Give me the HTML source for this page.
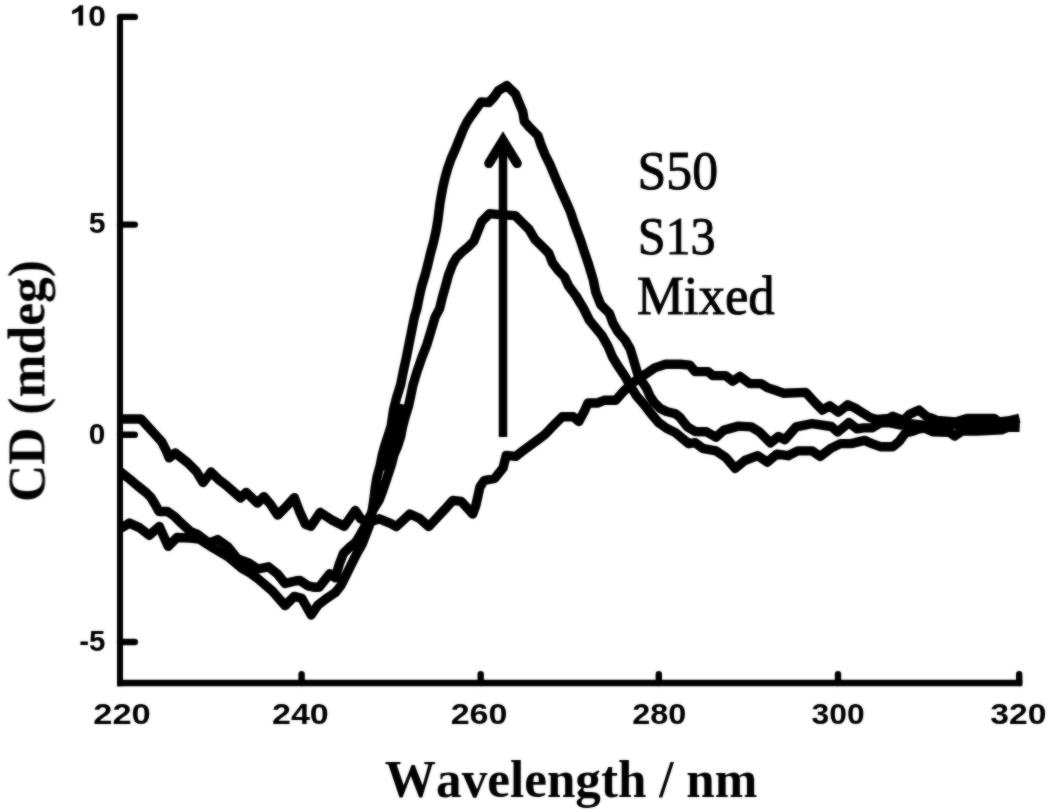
<!DOCTYPE html>
<html><head><meta charset="utf-8"><style>
html,body{margin:0;padding:0;background:#fff;}
body{width:1050px;height:812px;overflow:hidden;}
svg{display:block;}
#wrap{width:1050px;height:812px;}
text{font-kerning:none;}
.tk{font-family:"Liberation Sans",sans-serif;font-weight:bold;font-size:32px;fill:#000;}
.lg{font-family:"Liberation Serif",serif;font-size:52px;fill:#000;stroke:#000;stroke-width:0.9px;}
.ax{font-family:"Liberation Serif",serif;font-weight:bold;font-size:52px;fill:#000;}
</style></head><body>
<div id="wrap">
<svg width="1050" height="812" viewBox="0 0 1050 812">
<defs><filter id="bl" x="-2%" y="-2%" width="104%" height="104%"><feGaussianBlur stdDeviation="1" result="b"/><feComposite in="SourceGraphic" in2="b" operator="arithmetic" k1="0" k2="0.5" k3="0.5" k4="0"/></filter></defs>
<rect width="1050" height="812" fill="#fff"/>
<g filter="url(#bl)">
<g stroke="#000" stroke-width="6" fill="none" stroke-linecap="round">
<path d="M120,17 V686.3" stroke-linecap="butt"/>
<path d="M117,683 H1022.3" stroke-width="6.6" stroke-linecap="butt"/>
<path stroke-width="6.4" d="M120,16.9 H134.8 M120,224.6 H134.8 M120,434.7 H134.8 M120,642 H134.8"/>
<path stroke-width="6.4" d="M301.6,683 V674.3 M480.7,683 V674.3 M658.8,683 V674.3 M838,683 V674.3 M1019.2,683 V674.3"/>
</g>
<g stroke="#000" stroke-width="9.4" fill="none" stroke-linejoin="round" stroke-linecap="butt">
<polyline points="120,419 141,419 150.7,429.6 161.8,441.9 166.7,451.7 169.2,457.9 175.3,453 187.7,462.8 196.3,471.4 203.1,482.5 211,472 218.5,479.4 225.8,485 240.6,497.9 246.2,492.4 257.4,503.1 263.9,496.6 270.3,504 277.7,515.1 286,506.8 294.3,497.6 299.9,512.3 305.4,524.3 311,526.2 320.2,512.3 331.3,519.7 344.2,526.2 355.3,510.5 360.8,518.8 368.2,522.5 379.3,518.8 390.4,523.4 396.3,526.6 409.9,514 419.3,518.2 428.7,526.6 444.4,509.8 452.8,500.4 461.2,501.4 472.7,514 475.8,505.6 480,486.8 484.2,480.5 494.7,478.4 503.1,467.9 506.2,455.4 515.6,456.4 524,450.1 536.6,440.7 544.9,434.4 551.1,427.9 562.2,416.8 573.3,416.8 578.8,421.5 584.3,411.3 588,403 597.3,403 604.7,400.2 615.8,400.2 623.1,391.9 630.5,384.5 637.9,379 645.3,374.3 654.6,367.9 665.6,364.2 680.4,364.2 689.7,365.1 695.2,371.6 708,371.6 712.8,375.6 725.6,375.6 732.8,381.2 740,376.4 749.6,383.6 760.9,383.6 767.3,387.6 776.9,390.8 783.3,393.2 805.7,392.4 815.3,402.9 822.5,410.1 829.7,405.7 838.4,412.1 847.8,404.8 855.1,408 861.4,412.1 869.8,417.4 877.1,419.5 888.7,418.4 892.9,416.3 898.1,418.4 903.3,420.5 909.6,414.2 919,410 926.4,416.3 934.8,419.5 937,420.4 955.7,422 967,418.4 994,418.4 999,422 1007.7,421 1019.5,418.4"/>
<polyline points="120,528.7 129.4,523.1 139.4,527.6 149.3,535.3 159.3,526.4 168.2,546.4 177,537.5 190.3,538 199.2,539 213.2,548 227.6,556.5 242,568.5 250,573 257.6,578.5 272.2,590.8 285.1,605.6 294.3,596.4 301.7,598.2 311.2,615 318,604.9 327.1,598.1 335.2,592.7 340.7,585.9 346.1,575.1 351.5,564.2 356.9,553.4 362.3,543.9 366.5,533 369.5,525 371.5,515 373.8,500 375.2,488 377,477 380.3,465 382.3,455 384.7,446 388,436 391.2,426 393.5,410 396.5,398 400.6,384.8 403.3,371.3 406.3,357.7 409,344.2 411.7,330.6 414.4,317.1 416.9,308.6 419.1,297.5 421.6,286.5 425,275.4 427.9,264.3 430.5,253.2 433.5,242.2 436,231.1 437.9,220 440,203 442.6,188.4 445,178 447.6,168.7 451,159 455.4,149 459,140 463.3,129.4 467,122 471.2,115.6 477.1,107.7 481,102 488.9,102.5 494,97 498.5,90.5 506.8,85.6 515.6,94.2 518.8,102.2 522.8,111.8 524.4,121.4 530,127.8 538,135.8 541.2,145.4 545.2,155 550,164.6 554,174.2 558.5,185 563,195 567.5,205 570.5,212 574.3,223.5 580.2,239.3 584.1,251.1 588.1,262.9 593.3,280 595.8,292.3 600.7,304.6 609.3,313.2 613,323.1 617.9,331.7 625.3,340.3 630.2,348.9 633.6,360 637.7,373.8 642.1,381.6 646.6,388.3 649.9,396 654.3,402.7 659.9,408.2 666.5,411.5 675.4,413.7 679.8,417.1 683.1,421.5 687.6,427 695.2,431.6 706.4,431.7 716,437.3 724,430.1 738.4,426.1 751.2,426.9 759.3,431.7 770.5,442.9 778.5,436.5 784.9,439.7 796.1,426.9 812.1,423.7 831.3,426.5 837.7,432 848.9,422.6 857.2,428.9 863.5,427.9 871.9,427.9 880.3,423 887.6,422.5 900,425 912,424 922,425 935,426 950,425 965,424 980,425 1000,424 1019.5,423.5"/>
<polyline points="120,471.5 130.3,479.6 137.2,485.5 146,492.5 151,497.5 155.5,505 159,511.5 167.5,511.5 174.6,516.5 180,522 191.1,532 197.7,534.5 208.8,543 217.7,539.5 227.6,546.5 237.6,559 248.7,563 257.6,569 268.5,566.8 277.7,574.2 285.1,583.5 296.2,580.7 300,580.5 308.1,585.9 314.7,587.3 319,587.3 324.4,580.5 329.8,573.7 335.2,577.8 339.3,564.2 343.4,553.4 348.8,548 355.6,542.5 359.6,535.8 364,528 368,520 373,510 379.2,500 383,490 387.3,477 391.3,465 393.9,455 397.3,447 400.8,436 402.5,427 405.1,417 408.5,406 410.5,397 413,384.8 417.1,371.3 421.8,357.7 427,344.2 431.1,330.6 435.1,317.1 439.6,308.6 442.3,297.5 445.4,286.5 448.4,275.4 452.6,264.3 456.5,257.5 462,252 467.9,247.1 473.8,241.2 477.7,231.4 481.7,221.5 489.6,213.6 499.4,214.6 515.2,215.6 521.1,221.5 529,229.4 534.9,239.3 542.8,247.1 548.7,253.1 552.6,262.9 558.5,270.8 564.4,276.7 568.7,286.2 576.1,296 583.5,308.3 589.6,320.6 595.8,328 601.9,335.4 608.1,346.5 612.5,357 618.8,367.2 625.5,377.2 631,387.1 636.6,396 644.3,404.9 651,413.7 658.7,422.6 666.5,428.2 675.4,432.6 682,438.1 688.7,443.7 695.2,442.7 702.6,448.3 716,450.9 725.6,457.3 735.2,468.5 744.8,460.5 757.7,455.7 767.3,462.1 776.9,454.1 788.1,455.7 797.7,450.9 812.1,450.9 820.1,456.5 831.3,448.1 840.5,443.6 851,443.6 864.6,440.4 871.9,443.6 880.3,446.7 892.9,446.7 899.1,441.5 905.4,433 911.7,431.5 919,428.9 924.3,428 932.7,431.8 949.5,432.3 954.5,436 962,431 977,431 1001.5,429.8 1007.7,427.3 1019.5,427.3"/>
<polyline points="401.2,404 400,410 393.5,436 387,456 383,470" stroke-width="6"/>
</g>
<g stroke="#000" fill="none">
<path d="M503,437 V140" stroke-width="8.5" stroke-linecap="butt"/>
<path d="M489,163.3 L503,140.4 L517,163.3" stroke-width="9.6" stroke-linecap="round" stroke-linejoin="miter" stroke-miterlimit="10"/>
</g>
<text class="tk" transform="matrix(0.9902,0,0,0.9450,88.26,25.54)">0</text>
<text class="tk" transform="matrix(0.9438,0,0,0.9450,88.66,233.38)">5</text>
<text class="tk" transform="matrix(0.9311,0,0,0.9450,88.74,443.79)">0</text>
<text class="tk" transform="matrix(0.9219,0,0,0.9450,79.15,651.33)">-5</text>
<text class="tk" transform="matrix(1.0784,0,0,0.9450,93.22,724.14)">220</text>
<text class="tk" transform="matrix(1.0647,0,0,0.9450,271.94,724.19)">240</text>
<text class="tk" transform="matrix(1.0647,0,0,0.9450,450.64,724.04)">260</text>
<text class="tk" transform="matrix(1.0137,0,0,0.9450,632.29,724.04)">280</text>
<text class="tk" transform="matrix(0.9951,0,0,0.9450,811.55,724.04)">300</text>
<text class="tk" transform="matrix(1.0537,0,0,0.9450,990.21,724.04)">320</text>
<text class="lg" transform="matrix(0.9960,0,0,1.0486,637.51,189.28)">S50</text>
<text class="lg" transform="matrix(0.9642,0,0,1.0343,637.63,253.78)">S13</text>
<text class="lg" transform="matrix(1.0157,0,0,1.0438,636.88,314.48)">Mixed</text>
<text class="ax" transform="matrix(0.9847,0,0,0.9979,384.86,796.82)">Wavelength / nm</text>
<text class="ax" transform="matrix(0,-0.9918,1.0042,0,44.65,501.98)">CD (mdeg)</text>
<path d="M78.5,25.6 L83.1,25.6 L83.1,5.3 L79.5,5.3 Q77.3,8.6 72.1,10.7 L72.1,14.3 Q76,13 78.5,11.2 Z" fill="#000"/>
</g>
</svg>
</div>
</body></html>
